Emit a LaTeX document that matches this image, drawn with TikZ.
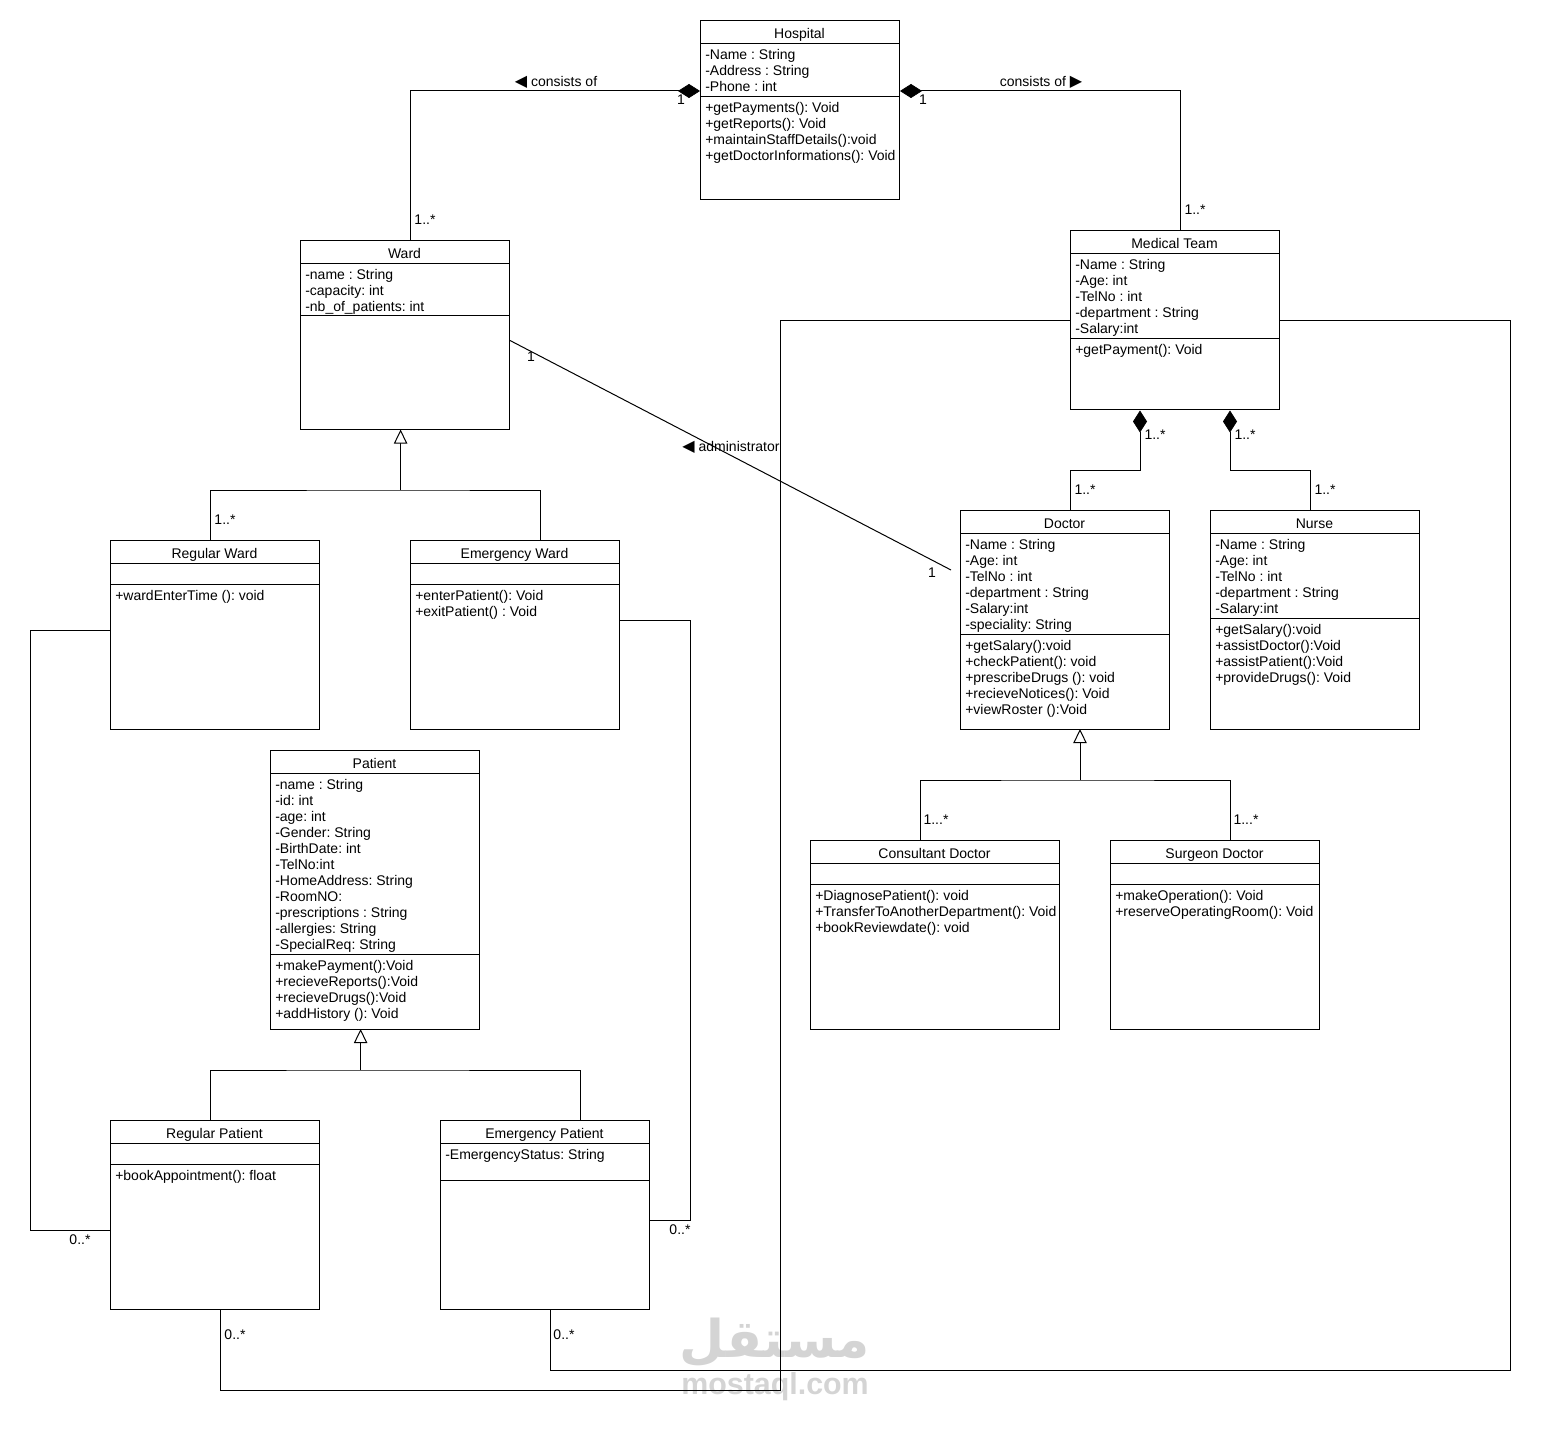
\documentclass[tikz,border=0pt]{standalone}
\usepackage{fontspec}
\setmainfont{Liberation Sans}
\newfontfamily\symfont{DejaVu Sans}
\newfontfamily\arabicfont[Script=Arabic]{DejaVu Sans}
\TeXXeTstate=1
\frenchspacing
\usetikzlibrary{calc,arrows.meta}
\tikzset{
    classbox/.style={draw,anchor=north west,inner sep=0pt,outer sep=0pt,line width=.75pt},
    classtitle/.style={anchor=base,inner sep=0pt,font=\fontsize{10.5}{12}\selectfont},
    members/.style={anchor=north west,inner sep=0pt,align=left,font=\fontsize{10.5}{12}\selectfont,execute at begin node=\strut},
    wire/.style={draw=black,line width=.75pt},
    owns/.style={wire,{Diamond[fill=black,length=16.5pt,width=10.5pt,line width=.5pt]}-},
    isa/.style={wire,{Triangle[open,fill=white,length=10.5pt,width=10pt,line width=.75pt]}-},
}
% id, x, y, w, h, title, first divider, second divider
\newcommand{\umlclass}[8]{
    \node[classbox,minimum width=#4*.75pt,minimum height=#5*.75pt] (#1) at (#2,#3) {};
    \node[classtitle] (#1title) at ($(#1.north)+(0,18)$) {#6};
    \draw[wire] ($(#1.north west)+(0,#7)$) -- ($(#1.north east)+(0,#7)$);
    \draw[wire] ($(#1.north west)+(0,#8)$) -- ($(#1.north east)+(0,#8)$);
}
\begin{document}
\begin{tikzpicture}[x=.75pt,y=-.75pt]
\useasboundingbox (0,0) rectangle (1550,1430);
\node[text=black!17,font=\arabicfont\bfseries\fontsize{39}{39}\selectfont] (markar) at (775,1342) {\beginR مستقل\endR};
\node[text=black!17,font=\bfseries\fontsize{22.8}{23}\selectfont] (marklat) at (775,1387) {mostaql.com};

\umlclass{hosp}{700}{20.5}{199}{179}{Hospital}{23}{76}
\node[members] (hospattr) at ($(hosp.north west)+(5,29)$) {-Name : String\\-Address : String\\-Phone : int};
\node[members] (hospop) at ($(hosp.north west)+(5,82)$) {+getPayments(): Void\\+getReports(): Void\\+maintainStaffDetails():void\\+getDoctorInformations(): Void};

\umlclass{ward}{300}{240.5}{209}{189}{Ward}{23}{75}
\node[members] (wardattr) at ($(ward.north west)+(5,29)$) {-name : String\\-capacity: int\\-nb\_of\_patients: int};

\umlclass{medteam}{1070}{230.5}{209}{179}{Medical Team}{23}{108}
\node[members] (medteamattr) at ($(medteam.north west)+(5,29)$) {-Name : String\\-Age: int\\-TelNo : int\\-department : String\\-Salary:int};
\node[members] (medteamop) at ($(medteam.north west)+(5,113)$) {+getPayment(): Void};

\umlclass{regward}{110}{540}{209}{189}{Regular Ward}{23}{44}
\node[members] (regwardop) at ($(regward.north west)+(5,49)$) {+wardEnterTime (): void};

\umlclass{emward}{410}{540}{209}{189}{Emergency Ward}{23}{44}
\node[members] (emwardop) at ($(emward.north west)+(5,50)$) {+enterPatient(): Void\\+exitPatient() : Void};

\umlclass{patient}{270}{750}{209}{279}{Patient}{23}{204}
\node[members] (patientattr) at ($(patient.north west)+(5,29)$) {-name : String\\-id: int\\-age: int\\-Gender: String\\-BirthDate: int\\-TelNo:int\\-HomeAddress: String\\-RoomNO:\\-prescriptions : String\\-allergies: String\\-SpecialReq: String};
\node[members] (patientop) at ($(patient.north west)+(5,210)$) {+makePayment():Void\\+recieveReports():Void\\+recieveDrugs():Void\\+addHistory (): Void};

\umlclass{doctor}{960}{510}{209}{219}{Doctor}{23}{124}
\node[members] (doctorattr) at ($(doctor.north west)+(5,29)$) {-Name : String\\-Age: int\\-TelNo : int\\-department : String\\-Salary:int\\-speciality: String};
\node[members] (doctorop) at ($(doctor.north west)+(5,130)$) {+getSalary():void\\+checkPatient(): void\\+prescribeDrugs (): void\\+recieveNotices(): Void\\+viewRoster ():Void};

\umlclass{nurse}{1210}{510}{209}{219}{Nurse}{23}{108}
\node[members] (nurseattr) at ($(nurse.north west)+(5,29)$) {-Name : String\\-Age: int\\-TelNo : int\\-department : String\\-Salary:int};
\node[members] (nurseop) at ($(nurse.north west)+(5,114)$) {+getSalary():void\\+assistDoctor():Void\\+assistPatient():Void\\+provideDrugs(): Void};

\umlclass{consdoc}{810}{840}{249}{189}{Consultant Doctor}{23}{44}
\node[members] (consdocop) at ($(consdoc.north west)+(5,50)$) {+DiagnosePatient(): void\\+TransferToAnotherDepartment(): Void\\+bookReviewdate(): void};

\umlclass{surgdoc}{1110}{840}{209}{189}{Surgeon Doctor}{23}{44}
\node[members] (surgdocop) at ($(surgdoc.north west)+(5,50)$) {+makeOperation(): Void\\+reserveOperatingRoom(): Void};

\umlclass{regpat}{110}{1120}{209}{189}{Regular Patient}{23}{44}
\node[members] (regpatop) at ($(regpat.north west)+(5,49)$) {+bookAppointment(): float};

\umlclass{empat}{440}{1120}{209}{189}{Emergency Patient}{23}{60}
\node[members] (empatattr) at ($(empat.north west)+(5,28)$) {-EmergencyStatus: String};

\coordinate (wardjoin) at (400.6,490);
\coordinate (doctorjoin) at (1080,780);
\coordinate (patientjoin) at (360.6,1070);
\coordinate (doctorbus) at (1070,470);
\coordinate (nursebus) at (1310,470);

% composition
\draw[owns] ($(hosp.north west)+(0,70.5)$) -| ($(ward.north west)+(110,0)$);
\draw[owns] ($(hosp.north east)+(1,70.5)$) -| ($(medteam.north west)+(110,0)$);
\draw[owns] ($(medteam.south west)+(70,1)$) |- (doctorbus) -- ($(doctor.north west)+(110,0)$);
\draw[owns] ($(medteam.south west)+(160,1)$) |- (nursebus) -- ($(nurse.north west)+(100,0)$);

% inheritance
\draw[wire] ($(regward.north west)+(100,0)$) |- (wardjoin) -| ($(emward.north west)+(130,0)$);
\draw[isa] ($(ward.south west)+(100.6,0)$) -- (wardjoin);
\draw[wire] ($(consdoc.north west)+(110,0)$) |- (doctorjoin) -| ($(surgdoc.north west)+(120,0)$);
\draw[isa] ($(doctor.south west)+(120,0)$) -- (doctorjoin);
\draw[wire] ($(regpat.north west)+(100,0)$) |- (patientjoin) -| ($(empat.north west)+(140,0)$);
\draw[isa] ($(patient.south west)+(90.6,0)$) -- (patientjoin);

% plain links
\coordinate (leftbus) at (30,630);
\coordinate (rightbus) at (690,620);
\coordinate (teambusl) at (780,1390);
\coordinate (teambusr) at (1510,1370);
\draw[wire] ($(regward.north west)+(0,90)$) -- (leftbus) |- ($(regpat.north west)+(0,110)$);
\draw[wire] ($(emward.north east)+(0,80)$) -- (rightbus) |- ($(empat.north east)+(0,100)$);
\draw[wire] ($(medteam.north west)+(0,90)$) -| (teambusl) -| ($(regpat.south west)+(110,0)$);
\draw[wire] ($(medteam.north east)+(0,90)$) -| (teambusr) -| ($(empat.south west)+(110,0)$);
\draw[wire] ($(ward.north east)+(1,100)$) -- ($(doctor.north west)+(-9,60)$);

\begin{scope}[every node/.style={inner sep=0pt,font=\fontsize{10.5}{12}\selectfont}]
    \node (cons1) at (556,82) {{\symfont\fontsize{12}{12}\selectfont ◀} consists of};
    \node (cons2) at (1041,82) {consists of {\symfont\fontsize{12}{12}\selectfont ▶}};
    \node (admin) at (731,447) {{\symfont\fontsize{12}{12}\selectfont ◀} administrator};
    \node (m1) at (681,100) {1};
    \node (m2) at (923,100) {1};
    \node (m3) at (425,220) {1..*};
    \node (m4) at (1195,210) {1..*};
    \node (m5) at (531,357) {1};
    \node (m6) at (932,573) {1};
    \node (m7) at (1155,435) {1..*};
    \node (m8) at (1245,435) {1..*};
    \node (m9) at (1085,490) {1..*};
    \node (m10) at (1325,490) {1..*};
    \node (m11) at (225,520) {1..*};
    \node (m12) at (936,820) {1...*};
    \node (m13) at (1246,820) {1...*};
    \node (m14) at (80,1240) {0..*};
    \node (m15) at (680,1230) {0..*};
    \node (m16) at (235,1335) {0..*};
    \node (m17) at (564,1335) {0..*};
\end{scope}
\end{tikzpicture}
\end{document}
